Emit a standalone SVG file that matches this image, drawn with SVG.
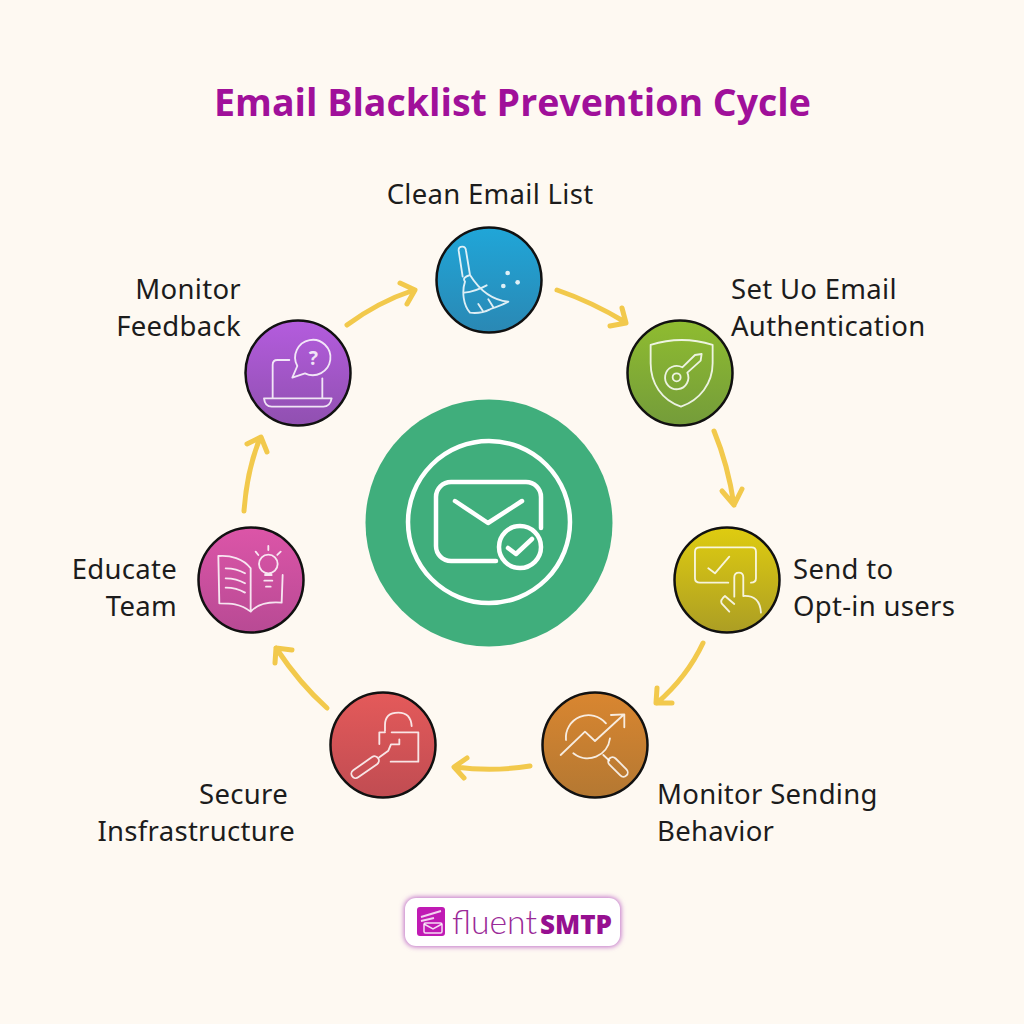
<svg xmlns="http://www.w3.org/2000/svg" width="1024" height="1024" viewBox="0 0 1024 1024">
<style>
.lab{font-family:"Noto Sans","DejaVu Sans",sans-serif;font-size:27.500px;fill:#1c1c1c;letter-spacing:.3px}
.e{text-anchor:end}
.n{stroke:#111;stroke-width:2.5}
.ic{fill:none;stroke:#fff;stroke-opacity:.85;stroke-width:5.500;stroke-linecap:round;stroke-linejoin:round}
.big{fill:none;stroke:#fff;stroke-width:4.5;stroke-linecap:round;stroke-linejoin:round}
.ar{fill:none;stroke:#f2c94c;stroke-width:5;stroke-linecap:round;stroke-linejoin:round}
</style>
<defs>
<linearGradient id="gb" x1="0" y1="0" x2="0" y2="1"><stop offset="0" stop-color="#20a6d8"/><stop offset="1" stop-color="#2a88b4"/></linearGradient>
<linearGradient id="gg" x1="0" y1="0" x2="0" y2="1"><stop offset="0" stop-color="#8fbc30"/><stop offset="1" stop-color="#749c3a"/></linearGradient>
<linearGradient id="gy" x1="0" y1="0" x2="0" y2="1"><stop offset="0" stop-color="#dfcc10"/><stop offset="1" stop-color="#ac9e24"/></linearGradient>
<linearGradient id="go" x1="0" y1="0" x2="0" y2="1"><stop offset="0" stop-color="#d98630"/><stop offset="1" stop-color="#b47832"/></linearGradient>
<linearGradient id="gr" x1="0" y1="0" x2="0" y2="1"><stop offset="0" stop-color="#e45a5a"/><stop offset="1" stop-color="#c04c52"/></linearGradient>
<linearGradient id="gp" x1="0" y1="0" x2="0" y2="1"><stop offset="0" stop-color="#dc55a8"/><stop offset="1" stop-color="#b84a94"/></linearGradient>
<linearGradient id="gv" x1="0" y1="0" x2="0" y2="1"><stop offset="0" stop-color="#b45cde"/><stop offset="1" stop-color="#9050b0"/></linearGradient>
<filter id="glow" x="-10%" y="-30%" width="120%" height="160%"><feGaussianBlur stdDeviation="2.5"/></filter>
</defs>
<rect width="1024" height="1024" fill="#fef9f2"/>
<text id="title" x="512.5" y="116" text-anchor="middle" font-family="'Open Sans','Noto Sans',sans-serif" font-weight="700" font-size="37.500" fill="#a0109a">Email Blacklist Prevention Cycle</text>

<g id="connectors">
<path class="ar" d="M557 290Q592 302 625 322M622 308L626 323L610 326"/>
<path class="ar" d="M714 431Q728 465 734 505M722 491L734 505L742 489"/>
<path class="ar" d="M703 643Q687 677 657 703M657 688L656 703L672 703"/>
<path class="ar" d="M530 766Q493 772 455 767M467 758L454 767L464 778"/>
<path class="ar" d="M327 708Q300 684 276 648M275 663L276 648L292 650"/>
<path class="ar" d="M244 511Q247 470 260 438M247 444L261 437L267 452"/>
<path class="ar" d="M347 325Q378 302 414 290M400 283L415 290L407 304"/>
</g>

<g id="center">
<circle cx="489" cy="523" r="123.500" fill="#40ae7c"/>
<circle class="big" cx="489" cy="522" r="81"/>
<path class="big" d="M541 528V497A15 15 0 0 0 526 482H451A15 15 0 0 0 436 497V546A15 15 0 0 0 451 561H496"/>
<path class="big" d="M455 501L488 523L522 501"/>
<circle class="big" cx="520" cy="547" r="21"/>
<path class="big" d="M508 548L516 554L532 539"/>
</g>

<g id="node-clean">
<circle class="n" cx="489" cy="280" r="52.500" fill="url(#gb)"/>
<g transform="translate(420 220) scale(.3333)">
<path class="ic" d="M128 170L116 92Q115 80 127 80Q137 80 138 92L150 165C175 205 210 240 265 245C240 260 220 262 210 268C190 278 165 280 150 278C130 255 125 215 135 185Q125 172 150 165M133 218Q165 215 200 196M175 252L190 275M205 238L220 262"/>
<circle cx="263" cy="159" r="7" fill="#fff" fill-opacity=".85"/><circle cx="293" cy="187" r="7" fill="#fff" fill-opacity=".85"/><circle cx="250" cy="198" r="7" fill="#fff" fill-opacity=".85"/>
</g>
<text class="lab" x="490" y="204" text-anchor="middle">Clean Email List</text>
</g>

<g id="node-auth">
<circle class="n" cx="680" cy="373" r="52.500" fill="url(#gg)"/>
<g transform="translate(420 220) scale(.3333)">
<path class="ic" d="M692 375Q785 345 878 375L878 430C878 490 840 540 783 560C725 540 692 490 692 430Z"/>
<path class="ic" d="M787 442L825 405L845 402L842 422L802 458A35 35 0 1 1 787 442Z"/>
<circle class="ic" cx="770" cy="472" r="12"/>
</g>
<text class="lab" x="731" y="299">Set Uo Email</text>
<text class="lab" x="731" y="336">Authentication</text>
</g>

<g id="node-optin">
<circle class="n" cx="727" cy="580" r="52.500" fill="url(#gy)"/>
<g transform="translate(320 520) scale(.3333)">
<path class="ic" d="M1225 188H1140Q1125 188 1125 175V95Q1125 82 1140 82H1295Q1308 82 1308 95V175Q1308 188 1293 188M1165 145L1185 160L1228 110M1243 230V172Q1243 158 1257 158Q1270 158 1270 172V228Q1320 225 1323 278M1228 275L1205 250Q1200 240 1215 228L1243 252"/>
</g>
<text class="lab" x="793" y="579">Send to</text>
<text class="lab" x="793" y="616">Opt-in users</text>
</g>

<g id="node-sending">
<circle class="n" cx="595" cy="745" r="52.500" fill="url(#go)"/>
<g transform="translate(320 520) scale(.3333)">
<path class="ic" d="M738 660A68 68 0 0 1 858 610M760 700A68 68 0 0 0 870 655M722 705L795 635L825 663L910 585M873 585L913 583L913 622M850 705L868 722"/>
<rect class="ic" x="858" y="728" width="72" height="26" rx="13" transform="rotate(45 894 741)"/>
</g>
<text class="lab" x="657" y="804">Monitor Sending</text>
<text class="lab" x="657" y="841">Behavior</text>
</g>

<g id="node-secure">
<circle class="n" cx="383" cy="745" r="52.500" fill="url(#gr)"/>
<g transform="translate(320 520) scale(.3333)">
<path class="ic" d="M195 633V615Q195 578 235 578Q272 578 275 618M215 637H295V725H212M178 672V637H195M178 712L205 692L213 673H238V658"/>
<rect class="ic" x="88" y="729" width="95" height="26" rx="13" transform="rotate(-35 135 742)"/>
</g>
<text class="lab e" x="288" y="804">Secure</text>
<text class="lab e" x="295" y="841">Insfrastructure</text>
</g>

<g id="node-educate">
<circle class="n" cx="251" cy="580" r="52.500" fill="url(#gp)"/>
<g transform="translate(190 310) scale(.3333)">
<path class="ic" d="M182 905C150 880 120 880 88 880L85 738C120 735 160 745 182 775ZM182 905C205 880 240 875 275 878L278 795M107 775Q140 775 165 790M107 805Q140 805 165 820M107 833Q140 833 165 848M225 795H245M223 812H247M228 830H242M197 725L205 735M235 708V720M272 725L262 735"/>
<circle class="ic" cx="235" cy="762" r="28"/>
</g>
<text class="lab e" x="177" y="579">Educate</text>
<text class="lab e" x="177" y="616">Team</text>
</g>

<g id="node-feedback">
<circle class="n" cx="298" cy="373" r="52.500" fill="url(#gv)"/>
<g transform="translate(190 310) scale(.3333)">
<path class="ic" d="M298 150H262Q248 150 248 165V262M397 205V262M222 265H425Q420 290 400 290H245Q225 290 222 265ZM322 168L307 203L345 190A53 53 0 1 0 322 168Z"/>
<text x="370" y="165" text-anchor="middle" font-family="'Noto Sans',sans-serif" font-weight="700" font-size="58" fill="#fff" fill-opacity=".85">?</text>
</g>
<text class="lab e" x="241" y="299">Monitor</text>
<text class="lab e" x="241" y="336">Feedback</text>
</g>

<g id="logo">
<rect x="404" y="897" width="217" height="50" rx="12" fill="#c070c8" filter="url(#glow)"/>
<rect x="405" y="898" width="215" height="48" rx="11" fill="#fff"/>
<rect x="417" y="907" width="28" height="29" rx="3" fill="#c01ab4"/>
<path d="M421 917L441 911M421 921L434 918" stroke="#fff" stroke-width="2" stroke-opacity=".8" fill="none"/>
<rect x="424" y="923" width="18" height="10" rx="1.500" fill="none" stroke="#fff" stroke-opacity=".85" stroke-width="1.500"/>
<path d="M424 924L433 929L442 924" fill="none" stroke="#fff" stroke-opacity=".85" stroke-width="1.500"/>
<text x="452" y="934" font-family="Lato,'Open Sans',sans-serif" font-weight="300" font-size="34" textLength="85" lengthAdjust="spacingAndGlyphs" fill="#9a2a98">fluent</text>
<text x="540" y="934" font-family="'Open Sans',sans-serif" font-weight="800" font-size="26" textLength="72" lengthAdjust="spacingAndGlyphs" fill="#960f90">SMTP</text>
</g>
</svg>
